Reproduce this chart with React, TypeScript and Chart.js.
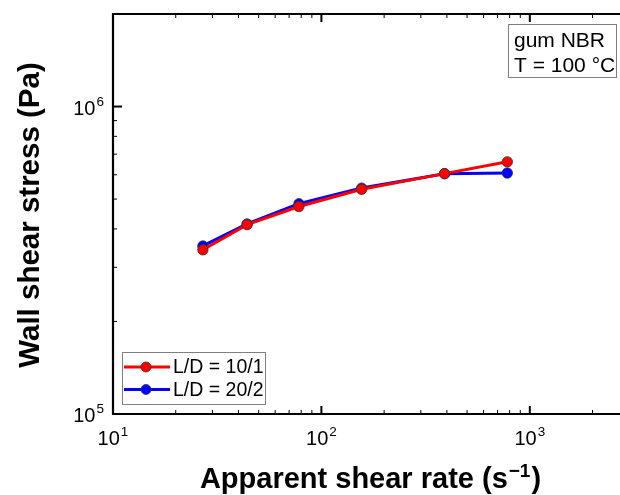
import React, { useEffect, useRef } from "react";
import { Chart, registerables } from "chart.js";

Chart.register(...registerables);

// Apparent shear rate (1/s)
const shearRate = [27, 44, 78, 156, 390, 780];
// Wall shear stress (Pa) for the two capillary dies
const stressLD10 = [342000, 413000, 473000, 538000, 605000, 661000];
const stressLD20 = [352000, 415000, 483000, 543000, 605000, 608000];

const seriesLabels = ["L/D = 10/1", "L/D = 20/2"];
const seriesColors = ["#ff0000", "#0000ff"];
const xMajor = [1, 2, 3];
const yMajor = [5, 6];
const noteLines = ["gum NBR", "T = 100 °C"];

const FONT = '"Liberation Sans", Arial, Helvetica, sans-serif';

function drawPow(
  ctx: CanvasRenderingContext2D,
  base: string,
  exp: string,
  x: number,
  baseline: number,
  align: "center" | "right",
  size: number,
  supSize: number,
  supRise: number,
  weight = ""
) {
  ctx.font = `${weight} ${size}px ${FONT}`;
  const wb = ctx.measureText(base).width;
  ctx.font = `${weight} ${supSize}px ${FONT}`;
  const we = ctx.measureText(exp).width;
  const total = wb + we + 1;
  const left = align === "center" ? x - total / 2 : x - total;
  ctx.textAlign = "left";
  ctx.textBaseline = "alphabetic";
  ctx.font = `${weight} ${size}px ${FONT}`;
  ctx.fillText(base, left, baseline);
  ctx.font = `${weight} ${supSize}px ${FONT}`;
  ctx.fillText(exp, left + wb + 1, baseline - supRise);
}

const framePlugin = {
  id: "frame",
  afterDraw(chart: any) {
    const { ctx, chartArea, scales } = chart;
    const xs = scales.x;
    const ys = scales.y;
    const { left, top, bottom } = chartArea;
    const edge = chart.width;
    ctx.save();
    ctx.fillStyle = "#000";
    ctx.strokeStyle = "#000";

    // frame (left, top, bottom)
    ctx.lineWidth = 2.2;
    ctx.beginPath();
    ctx.moveTo(edge, top);
    ctx.lineTo(left, top);
    ctx.lineTo(left, bottom);
    ctx.lineTo(edge, bottom);
    ctx.stroke();

    // x ticks, bottom and top, pointing inward
    for (let d = 1; d <= 3; d++) {
      for (let m = 1; m <= 9; m++) {
        const v = m * Math.pow(10, d);
        const px = xs.getPixelForValue(v);
        if (px <= left + 1 || px > edge) continue;
        const len = m === 1 ? 8 : 4;
        ctx.lineWidth = m === 1 ? 2 : 1;
        ctx.beginPath();
        ctx.moveTo(px, bottom);
        ctx.lineTo(px, bottom - len);
        ctx.moveTo(px, top);
        ctx.lineTo(px, top + len);
        ctx.stroke();
      }
    }
    // y ticks on the left
    for (let d = 5; d <= 6; d++) {
      for (let m = 1; m <= 9; m++) {
        const v = m * Math.pow(10, d);
        const py = ys.getPixelForValue(v);
        if (py >= bottom - 1 || py <= top + 1) continue;
        const len = m === 1 ? 9 : 4;
        ctx.lineWidth = m === 1 ? 2 : 1;
        ctx.beginPath();
        ctx.moveTo(left, py);
        ctx.lineTo(left + len, py);
        ctx.stroke();
      }
    }

    // tick labels
    ctx.fillStyle = "#000";
    for (const e of xMajor) {
      const px = xs.getPixelForValue(Math.pow(10, e));
      drawPow(ctx, "10", String(e), px, 445, "center", 20, 13.5, 9);
    }
    for (const e of yMajor) {
      const py = ys.getPixelForValue(Math.pow(10, e));
      drawPow(ctx, "10", String(e), 104, py + 8, "right", 20, 13.5, 9);
    }

    // axis titles
    ctx.save();
    ctx.translate(31, 215);
    ctx.rotate(-Math.PI / 2);
    ctx.font = `bold 29.5px ${FONT}`;
    ctx.textAlign = "center";
    ctx.textBaseline = "middle";
    ctx.fillText("Wall shear stress (Pa)", 0, 0);
    ctx.restore();

    {
      const a = "Apparent shear rate (s";
      const sup = "\u22121";
      const c = ")";
      ctx.font = `bold 29px ${FONT}`;
      const wa = ctx.measureText(a).width;
      const wc = ctx.measureText(c).width;
      ctx.font = `bold 19px ${FONT}`;
      const ws = ctx.measureText(sup).width;
      const total = wa + ws + wc + 2;
      const x0 = 370.5 - total / 2;
      const base = 488;
      ctx.textAlign = "left";
      ctx.textBaseline = "alphabetic";
      ctx.font = `bold 29px ${FONT}`;
      ctx.fillText(a, x0, base);
      ctx.font = `bold 19px ${FONT}`;
      ctx.fillText(sup, x0 + wa + 1, base - 11);
      ctx.font = `bold 29px ${FONT}`;
      ctx.fillText(c, x0 + wa + ws + 2, base);
    }

    // legend
    ctx.fillStyle = "#fff";
    ctx.fillRect(122, 352, 144, 53);
    ctx.strokeStyle = "#7f7f7f";
    ctx.lineWidth = 1;
    ctx.strokeRect(122.5, 352.5, 143, 52);
    seriesLabels.forEach((lab, i) => {
      const y = 367 + i * 22.5;
      ctx.strokeStyle = seriesColors[i];
      ctx.lineWidth = 3;
      ctx.beginPath();
      ctx.moveTo(124, y);
      ctx.lineTo(170, y);
      ctx.stroke();
      ctx.beginPath();
      ctx.arc(146, y, 5, 0, Math.PI * 2);
      ctx.fillStyle = seriesColors[i];
      ctx.fill();
      ctx.strokeStyle = "#333";
      ctx.lineWidth = 0.8;
      ctx.stroke();
      ctx.fillStyle = "#000";
      ctx.font = `19.5px ${FONT}`;
      ctx.textAlign = "left";
      ctx.textBaseline = "middle";
      ctx.fillText(lab, 173, y + 1);
    });

    // condition note
    ctx.fillStyle = "#fff";
    ctx.fillRect(508, 24, 109, 54);
    ctx.strokeStyle = "#7f7f7f";
    ctx.lineWidth = 1;
    ctx.strokeRect(508.5, 24.5, 108, 53);
    ctx.fillStyle = "#000";
    ctx.font = `21px ${FONT}`;
    ctx.textAlign = "left";
    ctx.textBaseline = "alphabetic";
    noteLines.forEach((t, i) => ctx.fillText(t, 514, 47 + i * 25));

    ctx.restore();
  },
};

export default function App() {
  const ref = useRef<HTMLCanvasElement>(null);
  useEffect(() => {
    if (!ref.current) return;
    const makeSet = (label: string, data: number[], color: string) => ({
      label,
      data: shearRate.map((x, i) => ({ x, y: data[i] })),
      borderColor: color,
      backgroundColor: color,
      borderWidth: 3,
      pointRadius: 5.2,
      pointBorderColor: "#333",
      pointBorderWidth: 0.8,
      pointBackgroundColor: color,
      tension: 0,
    });
    const chart = new Chart(ref.current, {
      type: "line",
      data: {
        datasets: [
          makeSet(seriesLabels[0], stressLD10, seriesColors[0]),
          makeSet(seriesLabels[1], stressLD20, seriesColors[1]),
        ],
      },
      options: {
        animation: false,
        responsive: false,
        maintainAspectRatio: false,
        layout: { padding: { left: 113, top: 14, right: 0, bottom: 81 } },
        plugins: { legend: { display: false }, tooltip: { enabled: false } },
        scales: {
          x: {
            type: "logarithmic",
            min: 10,
            max: 2535,
            grid: { display: false, drawTicks: false },
            border: { display: false },
            ticks: { display: false },
            afterFit: (s: any) => { s.height = 0; },
          },
          y: {
            type: "logarithmic",
            min: 100000,
            max: 2000000,
            grid: { display: false, drawTicks: false },
            border: { display: false },
            ticks: { display: false },
            afterFit: (s: any) => { s.width = 0; },
          },
        },
      },
      plugins: [framePlugin],
    } as any);
    return () => chart.destroy();
  }, []);
  return (
    <div style={{ position: "fixed", left: 0, top: 0, width: 620, height: 495, background: "#fff" }}>
      <canvas ref={ref} width={620} height={495} style={{ display: "block" }} />
    </div>
  );
}
